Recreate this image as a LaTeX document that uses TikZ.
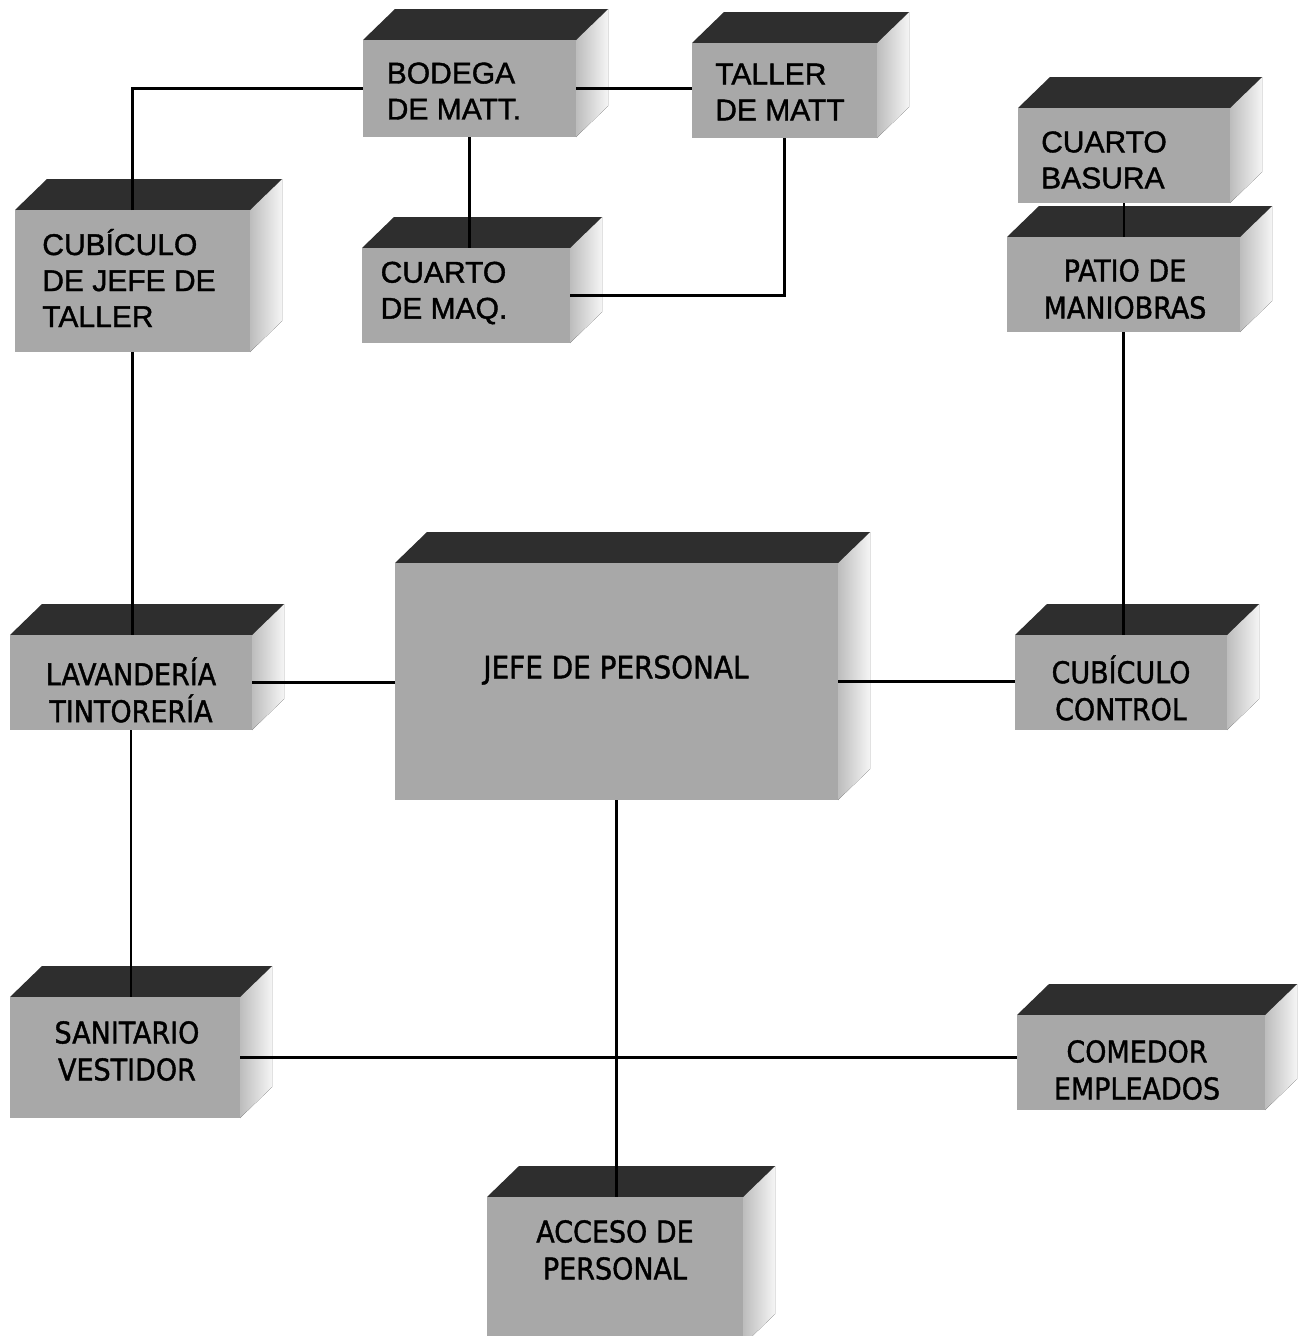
\documentclass[tikz,border=0pt]{standalone}
\usepackage{fontspec}
\setmainfont[FakeBold=1.3]{Liberation Sans}
\newfontfamily\tahfont[FakeBold=1.3]{DejaVu Sans Condensed}
\def\cdx{32}
\def\cdy{-31}
\newcommand\cubo[9]{%
  \fill[sideface] (#4,#3) -- (#4+\cdx,#3+\cdy) -- (#4+\cdx,#5+\cdy) -- (#4,#5) -- cycle;
  \fill[topface] (#2,#3) -- (#2+\cdx,#3+\cdy) -- (#4+\cdx,#3+\cdy) -- (#4,#3) -- cycle;
  \node[frontface,minimum width={(#4-#2)*1pt},minimum height={(#5-#3)*1pt}] (#1) at ({(#2+#4)/2},{(#3+#5)/2}) {};
  \node[#6] (#1-t) at (#7,#8) {#9};
}
\begin{document}
\begin{tikzpicture}[x=1pt,y=-1pt,
  topface/.style={fill=black!82},
  sideface/.style={left color=black!26,right color=black!4},
  frontface/.style={fill=black!34,inner sep=0pt,outer sep=0pt},
  conn/.style={line width=2.6pt,black},
  ariallbl/.style={font=\fontsize{30}{36}\selectfont,align=left,inner sep=0pt},
  tahlbl/.style={font=\tahfont\fontsize{30}{37}\selectfont,align=center,inner sep=0pt},
  jefelbl/.style={font=\tahfont\fontsize{31}{37}\selectfont,align=center,inner sep=0pt}]
\useasboundingbox (0,0) rectangle (1302,1336);
\clip (0,0) rectangle (1302,1336);
\fill[white] (0,0) rectangle (1302,1336);

\cubo{bod}{363}{40}{576}{137}{ariallbl}{454}{91}{BODEGA\\DE MATT.}
\cubo{tal}{692}{43}{877}{138}{ariallbl}{780}{92}{TALLER\\DE MATT}
\cubo{maq}{362}{248}{570}{343}{ariallbl}{444}{293}{CUARTO\\DE MAQ.}
\cubo{cub}{15}{210}{250}{352}{ariallbl}{129}{278}{CUBÍCULO\\DE JEFE DE\\TALLER}
\cubo{bas}{1018}{108}{1230}{203}{ariallbl}{1104}{160}{CUARTO\\BASURA}
\cubo{pat}{1007}{237}{1240}{332}{tahlbl}{1125}{289}{PATIO DE\\MANIOBRAS}
\cubo{jef}{395}{563}{838}{800}{jefelbl}{616}{670}{JEFE DE PERSONAL}
\cubo{lav}{10}{635}{252}{730}{tahlbl}{131}{690}{LAVANDERÍA\\TINTORERÍA}
\cubo{ctl}{1015}{635}{1227}{730}{tahlbl}{1121}{688}{CUBÍCULO\\CONTROL}
\cubo{san}{10}{997}{240}{1118}{tahlbl}{127}{1051}{SANITARIO\\VESTIDOR}
\cubo{com}{1017}{1015}{1265}{1110}{tahlbl}{1137}{1070}{COMEDOR\\EMPLEADOS}
\cubo{acc}{487}{1197}{743}{1345}{tahlbl}{615}{1250}{ACCESO DE\\PERSONAL}

\draw[conn] (cub.north) |- (bod.west);
\draw[conn] (bod.east) -- (bod.east -| tal.west);
\draw[conn] (bod.south) -- (bod.south |- maq.north);
\draw[conn] (tal.south) |- (maq.east);
\draw[conn] (bas.south) -- (bas.south |- pat.north);
\draw[conn] (pat.south) -- (pat.south |- ctl.north);
\draw[conn] (cub.south) -- (cub.south |- lav.north);
\draw[conn] (lav.south) -- (lav.south |- san.north);
\draw[conn] (lav.east) -- (lav.east -| jef.west);
\draw[conn] (jef.east) -- (jef.east -| ctl.west);
\draw[conn] (jef.south) -- (jef.south |- acc.north);
\draw[conn] (san.east) -- (san.east -| com.west);
\end{tikzpicture}
\end{document}
